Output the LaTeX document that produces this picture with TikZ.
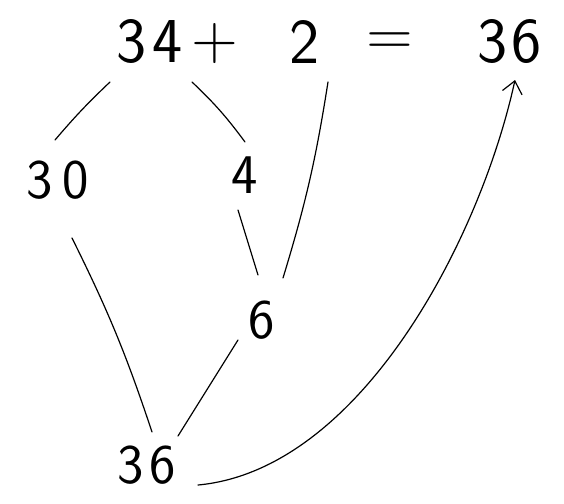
\documentclass[tikz,border=0pt]{standalone}
\usetikzlibrary{arrows.meta,calc}
\begin{document}
\begin{tikzpicture}[x=1pt,y=-1pt,
  big/.style={inner sep=0pt,font=\sffamily\fontsize{64}{64}\selectfont},
  mid/.style={inner sep=0pt,font=\sffamily\fontsize{56}{56}\selectfont},
  pen/.style={line width=1.2pt,line cap=round}]
\useasboundingbox (0,0) rectangle (564,503);
\node[big] (n34) at (150,42) {3\hspace{6pt}4};
\node[big] (plus) at (215,44) {+};
\node[big] (n2) at (305,42) {2};
\node[big] (eq) at (390,44) {=};
\node[big] (n36t) at (510,42) {3\hspace{4pt}6};
\node[mid] (n30) at (58,180) {3\hspace{10pt}0};
\node[mid] (n4) at (245,175) {4};
\node[mid] (n6) at (262,320) {6};
\node[mid] (nb36) at (147,465) {3\hspace{6pt}6};
\draw[pen] ($(n34)+(-40,40)$) to[bend right=3] ($(n30)+(-3,-40)$);
\draw[pen] ($(n34)+(42,40)$) to[bend left=5] ($(n4)+(0,-33)$);
\draw[pen] ($(n2)+(23,40)$) to[bend left=4] ($(n6)+(21,-42)$);
\draw[pen] ($(n4)+(-7,35)$) -- ($(n6)+(-4,-45)$);
\draw[pen] ($(n30)+(14,58)$) to[bend left=4] ($(nb36)+(5,-33)$);
\draw[pen] ($(n6)+(-24,20)$) -- ($(nb36)+(31,-29)$);
\draw[pen,-{Straight Barb[length=12pt,width=20pt]}] ($(nb36)+(51,20)$) .. controls (360,470) and (480,240) .. ($(n36t)+(5,38)$);
\end{tikzpicture}
\end{document}
